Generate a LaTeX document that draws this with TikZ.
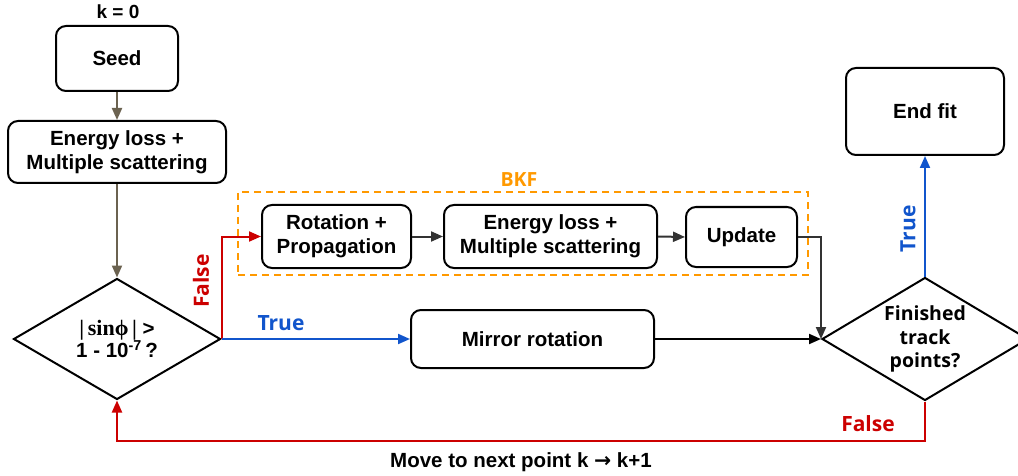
\documentclass[tikz,border=0pt]{standalone}
\usepackage{fontspec}
\setmainfont{Liberation Sans}
\newfontfamily\opensans{Open Sans}
\newfontfamily\serifgr{Liberation Serif}
\newfontfamily\dejavu{DejaVu Sans}
\usetikzlibrary{shapes.geometric,arrows.meta}
\definecolor{cred}{HTML}{CC0000}
\definecolor{cblue}{HTML}{1155CC}
\definecolor{corange}{HTML}{FF9900}
\definecolor{cbrown}{HTML}{6B6250}
\definecolor{cdark}{HTML}{333333}
\tikzset{
  box/.style={draw=black, line width=2pt, rounded corners=10pt, fill=white, align=center,
    font=\fontsize{20.5}{24}\selectfont\bfseries, inner sep=0pt},
  dec/.style={draw=black, line width=2pt, shape=diamond, inner sep=0pt, align=center, fill=white},
  conn/.style={line width=2pt, -{Triangle[length=12pt,width=10pt]}},
  lbl/.style={font=\opensans\fontsize{21}{24}\selectfont\bfseries}
}
\begin{document}
\begin{tikzpicture}[x=1pt,y=-1pt]
\useasboundingbox (0,0) rectangle (1018,476);
% BKF frame
\node[draw=corange, line width=2pt, dash pattern=on 7pt off 5pt, minimum width=570pt, minimum height=83pt, inner sep=0pt] (bkf) at (523,233.5) {};
\node[lbl, text=corange, font=\opensans\fontsize{19.5}{22}\selectfont\bfseries] (bkflbl) at (519,180) {BKF};
% nodes
\node[font=\fontsize{19}{22}\selectfont\bfseries] (k0) at (118,12) {k = 0};
\node[box, minimum width=122pt, minimum height=65pt] (seed) at (117,58.5) {Seed};
\node[box, minimum width=218pt, minimum height=62pt] (el1) at (117,152) {Energy loss +\\Multiple scattering};
\node[dec, minimum width=207pt, minimum height=121pt] (d1) at (117,339) {};
\node[align=center, inner sep=0pt] (d1t) at (d1.center)
  {{\serifgr\fontsize{22}{24}\selectfont\bfseries |\,sinϕ\,| }{\fontsize{20.5}{24}\selectfont\bfseries >}\\[-1pt]
   {\fontsize{20.5}{24}\selectfont\bfseries 1 - 10\textsuperscript{-7}\,?}};
\node[box, minimum width=149pt, minimum height=63pt] (rot) at (336.5,236.5) {Rotation +\\Propagation};
\node[box, minimum width=213pt, minimum height=63pt] (el2) at (550.5,236.5) {Energy loss +\\Multiple scattering};
\node[box, minimum width=111pt, minimum height=60pt] (upd) at (741.5,237) {Update};
\node[box, minimum width=243pt, minimum height=58pt] (mir) at (532.5,339) {Mirror rotation};
\node[box, minimum width=158pt, minimum height=87pt] (end) at (925,111.5) {End fit};
\node[dec, minimum width=206pt, minimum height=123pt] (d2) at (925,339) {};
\node[align=center, inner sep=0pt, font=\opensans\fontsize{19.5}{23.5}\selectfont\bfseries] (d2t) at (d2.center) {Finished\\track\\points?};
% connectors
\draw[conn, cbrown] (seed.south) -- (el1.north);
\draw[conn, cbrown] (el1.south) -- (d1.north);
\draw[conn, cred] (d1.east) |- (rot.west);
\draw[conn, cblue] (d1.east) -- (mir.west);
\draw[conn, cdark] (rot.east) -- (el2.west);
\draw[conn, cdark] (el2.east) -- (upd.west);
\draw[conn, cdark] (upd.east) -| (d2.west);
\draw[conn, black] (mir.east) -- (d2.west);
\draw[conn, cblue] (d2.north) -- (end.south);
\coordinate (loop) at (520,441);
\draw[conn, cred] (d2.south) |- (loop) -| (d1.south);
% labels
\node[lbl, text=cred, rotate=90] (f1) at (201,281) {False};
\node[lbl, text=cblue] (t1) at (281,323) {True};
\node[lbl, text=cblue, rotate=90] (t2) at (908,229) {True};
\node[lbl, text=cred] (f2) at (868,424) {False};
\node[font=\fontsize{20.5}{24}\selectfont\bfseries] (mv) at (521,462) {Move to next point k {\dejavu\bfseries →} k+1};
\end{tikzpicture}
\end{document}
